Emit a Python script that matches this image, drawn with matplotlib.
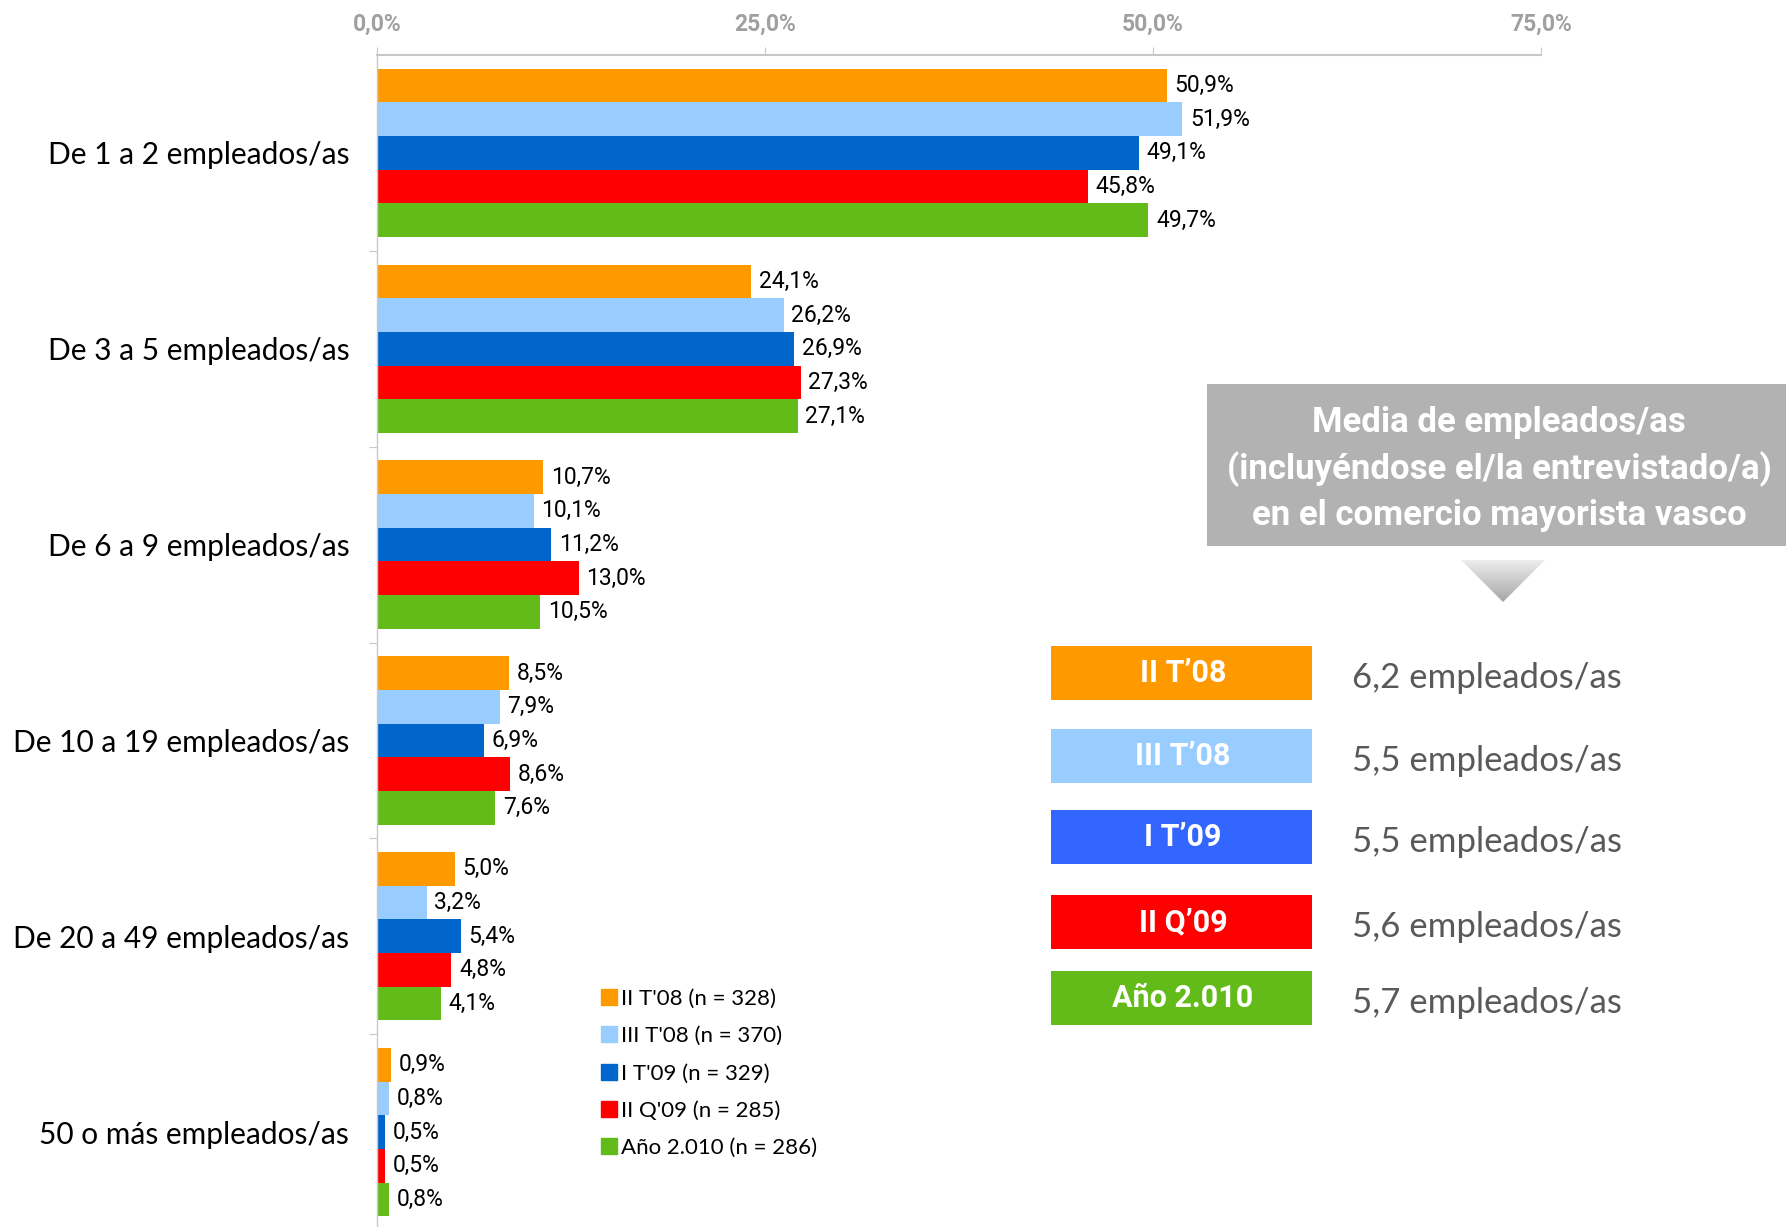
import numpy as np
import matplotlib.pyplot as plt
from matplotlib.colors import LinearSegmentedColormap
from matplotlib.patches import Rectangle, Polygon
from matplotlib.lines import Line2D

# ---- data -------------------------------------------------------------
categories = ["De 1 a 2 empleados/as", "De 3 a 5 empleados/as", "De 6 a 9 empleados/as",
              "De 10 a 19 empleados/as", "De 20 a 49 empleados/as", "50 o más empleados/as"]
series_names = ["II T'08 (n = 328)", "III T'08 (n = 370)", "I T'09 (n = 329)",
                "II Q'09 (n = 285)", "Año 2.010 (n = 286)"]
ii_t08 = [50.9, 24.1, 10.7, 8.5, 5.0, 0.9]
iii_t08 = [51.9, 26.2, 10.1, 7.9, 3.2, 0.8]
i_t09 = [49.1, 26.9, 11.2, 6.9, 5.4, 0.5]
ii_q09 = [45.8, 27.3, 13.0, 8.6, 4.8, 0.5]
ano_2010 = [49.7, 27.1, 10.5, 7.6, 4.1, 0.8]
series = [ii_t08, iii_t08, i_t09, ii_q09, ano_2010]
bar_colors = ["#FF9900", "#99CCFF", "#0066CC", "#FF0000", "#63BB1A"]

xticks = [0, 25, 50, 75]
xtick_labels = ["0,0%", "25,0%", "50,0%", "75,0%"]

# side panel: mean employees per period
panel_title = "Media de empleados/as\n(incluyéndose el/la entrevistado/a)\nen el comercio mayorista vasco"
panel_labels = ["II T’08", "III T’08", "I T’09", "II Q’09", "Año 2.010"]
panel_means = [6.2, 5.5, 5.5, 5.6, 5.7]
panel_colors = ["#FF9900", "#99CCFF", "#3366FF", "#FF0000", "#63BB1A"]

NARROW = ["Roboto", "DejaVu Sans"]
HUMAN = ["Lato", "DejaVu Sans"]

W, H = 1786, 1227
fig = plt.figure(figsize=(W / 100, H / 100), dpi=100)

# ---- main bar chart ---------------------------------------------------
ax = fig.add_axes([377 / W, -3 / H, (1541 - 377) / W, (1230 - 55) / H])
n = len(series)
bh = 0.172
y = np.arange(len(categories))
for j, (vals, col) in enumerate(zip(series, bar_colors)):
    pos = y + (j - (n - 1) / 2) * bh
    ax.barh(pos, vals, height=bh, color=col, label=series_names[j])
    for p, v in zip(pos, vals):
        ax.text(v + 0.5, p, f"{v:.1f}".replace(".", ",") + "%", va="center", ha="left",
                fontsize=16.5, family=NARROW, color="black")

ax.set_xlim(0, 75)
ax.set_ylim(len(categories) - 0.5, -0.5)
ax.xaxis.tick_top()
ax.set_xticks(xticks)
ax.set_xticklabels(xtick_labels, family=NARROW, fontsize=16.5, fontweight="bold", color="#A0A0A0")
ax.tick_params(axis="x", direction="out", length=6, color="#C8C8C8", pad=8)

ax.set_yticks(np.arange(len(categories) - 1) + 0.5)
ax.set_yticklabels([])
ax.tick_params(axis="y", which="major", direction="out", length=6, color="#C8C8C8")
ax.set_yticks(y, minor=True)
ax.set_yticklabels(categories, minor=True, family=HUMAN, fontsize=21.5, color="black")
ax.tick_params(axis="y", which="minor", length=0, pad=20)

for s in ["right", "bottom"]:
    ax.spines[s].set_visible(False)
ax.spines["top"].set_color("#C8C8C8")
ax.spines["top"].set_linewidth(1.5)
ax.spines["left"].set_color("#C8C8C8")
ax.spines["left"].set_linewidth(1.0)

handles = [Line2D([], [], marker="s", linestyle="none", markersize=12,
                  markerfacecolor=c, markeredgecolor=c) for c in bar_colors]
fig.legend(handles, series_names, loc="upper left", bbox_to_anchor=(592 / W, 1 - 980 / H),
           frameon=False, prop={"family": HUMAN, "size": 16}, handlelength=0.7,
           handletextpad=0.2, labelspacing=0.78, borderaxespad=0)

# ---- side panel (pixel coordinates) -----------------------------------
ov = fig.add_axes([0, 0, 1, 1])
ov.set_xlim(0, W)
ov.set_ylim(H, 0)
ov.axis("off")

ov.add_patch(Rectangle((1207, 384), W - 1207, 162, color="#B2B2B2", lw=0))
ov.text(1499, 469, panel_title, ha="center", va="center", color="white", family=NARROW,
        fontsize=25, fontweight="bold", linespacing=1.45)

tri = Polygon([(1461, 560), (1545, 560), (1503, 602)], closed=True, facecolor="none", edgecolor="none")
ov.add_patch(tri)
grad = np.linspace(0, 1, 64).reshape(-1, 1)
im = ov.imshow(grad, cmap=LinearSegmentedColormap.from_list("g", ["#EDEDED", "#A6A6A6"]),
               extent=(1461, 1545, 602, 560), aspect="auto", origin="upper")
im.set_clip_path(tri)
ov.set_xlim(0, W)
ov.set_ylim(H, 0)

box_tops = [646, 729, 810, 895, 971]
for top, lab, mean, col in zip(box_tops, panel_labels, panel_means, panel_colors):
    ov.add_patch(Rectangle((1051, top), 261, 54, color=col, lw=0))
    ov.text(1183, top + 27, lab, ha="center", va="center", color="white", family=NARROW,
            fontsize=22, fontweight="bold")
    ov.text(1352, top + 32, f"{mean:.1f}".replace(".", ",") + " empleados/as", ha="left",
            va="center", color="#595959", family=HUMAN, fontsize=25)

fig.savefig("out.png", dpi=100)
